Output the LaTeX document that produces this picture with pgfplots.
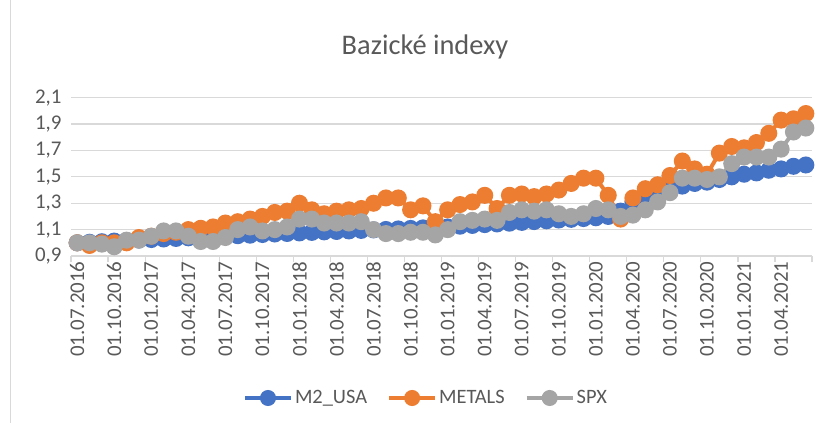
\documentclass[border=0pt]{standalone}
\usepackage{fontspec}
\setmainfont{Carlito}
\usepackage{pgfplots}
\usepackage{pgfplotstable}
\pgfplotsset{compat=1.18}
\definecolor{cblue}{HTML}{4472C4}
\definecolor{corange}{HTML}{ED7D31}
\definecolor{cgray}{HTML}{A5A5A5}
\definecolor{gridgray}{HTML}{D9D9D9}
\definecolor{txtgray}{HTML}{595959}

% monthly, 07.2016 - 06.2021, x = month index + 0.5
\pgfplotstableread{
x m2 metals spx
0.5 1.000 1.00 1.00
1.5 1.004 0.98 1.00
2.5 1.008 1.00 0.99
3.5 1.013 1.00 0.97
4.5 1.017 1.00 1.02
5.5 1.021 1.04 1.02
6.5 1.025 1.05 1.05
7.5 1.029 1.07 1.09
8.5 1.033 1.08 1.09
9.5 1.038 1.10 1.05
10.5 1.042 1.11 1.01
11.5 1.046 1.12 1.01
12.5 1.050 1.15 1.04
13.5 1.054 1.16 1.10
14.5 1.058 1.18 1.12
15.5 1.063 1.20 1.09
16.5 1.067 1.23 1.10
17.5 1.071 1.24 1.12
18.5 1.075 1.30 1.18
19.5 1.079 1.25 1.18
20.5 1.083 1.22 1.15
21.5 1.086 1.24 1.15
22.5 1.090 1.25 1.15
23.5 1.094 1.26 1.16
24.5 1.098 1.30 1.10
25.5 1.101 1.34 1.07
26.5 1.105 1.34 1.07
27.5 1.109 1.25 1.08
28.5 1.113 1.28 1.08
29.5 1.116 1.16 1.06
30.5 1.120 1.25 1.10
31.5 1.126 1.29 1.16
32.5 1.132 1.31 1.17
33.5 1.138 1.36 1.18
34.5 1.143 1.26 1.17
35.5 1.149 1.36 1.23
36.5 1.155 1.37 1.25
37.5 1.161 1.35 1.24
38.5 1.167 1.37 1.25
39.5 1.173 1.40 1.22
40.5 1.178 1.45 1.20
41.5 1.184 1.49 1.22
42.5 1.190 1.49 1.26
43.5 1.200 1.36 1.25
44.5 1.240 1.18 1.20
45.5 1.310 1.34 1.21
46.5 1.360 1.41 1.25
47.5 1.390 1.44 1.31
48.5 1.410 1.51 1.38
49.5 1.430 1.62 1.49
50.5 1.450 1.56 1.49
51.5 1.460 1.52 1.48
52.5 1.480 1.68 1.50
53.5 1.500 1.73 1.60
54.5 1.520 1.72 1.65
55.5 1.530 1.76 1.65
56.5 1.550 1.83 1.65
57.5 1.560 1.93 1.71
58.5 1.580 1.94 1.84
59.5 1.590 1.98 1.87
}\data

\begin{document}
\begin{tikzpicture}
\path[use as bounding box] (0,0) rectangle (825bp,423bp);
\draw[gridgray, line width=1bp] (10bp,0) -- (10bp,423bp);
\node[txtgray, font=\fontsize{28.5}{32}\selectfont] at (425bp,376bp) {Bazické indexy};
\begin{axis}[
    at={(71bp,167bp)}, anchor=south west,
    scale only axis, width=741bp, height=158.3bp,
    xmin=0, xmax=60, ymin=0.9, ymax=2.1,
    axis x line*=bottom, axis y line*=left,
    y axis line style={draw=none},
    x axis line style={gridgray, line width=1.2bp},
    ytick={0.9,1.1,1.3,1.5,1.7,1.9,2.1},
    ytick style={draw=none},
    ymajorgrids, grid style={gridgray, line width=1.2bp},
    xtick={0,3,...,60}, xticklabels={},
    tick align=outside, major tick length=6bp,
    xtick style={gridgray, line width=1.2bp},
    extra x ticks={0.5,3.5,...,57.5},
    extra x tick labels={01.07.2016,01.10.2016,01.01.2017,01.04.2017,01.07.2017,01.10.2017,01.01.2018,01.04.2018,01.07.2018,01.10.2018,01.01.2019,01.04.2019,01.07.2019,01.10.2019,01.01.2020,01.04.2020,01.07.2020,01.10.2020,01.01.2021,01.04.2021},
    extra x tick style={major tick length=0pt, xmajorgrids=false,
        tick label style={rotate=90, anchor=east, xshift=-2bp}},
    tick label style={txtgray, font=\fontsize{21}{25}\selectfont},
    /pgf/number format/assume math mode=true,
    yticklabel style={/pgf/number format/.cd, use comma, fixed, fixed zerofill, precision=1},
    every axis plot/.append style={line width=4bp, mark=*, mark size=6.5bp},
    legend columns=3,
    legend style={draw=none, at={(0.479,-0.897)}, anchor=center,
        font=\fontsize{20.5}{24}\selectfont, text=txtgray,
        /tikz/every even column/.append style={column sep=18bp}},
    legend image code/.code={\draw[mark repeat=2,mark phase=2, mark size=6bp] plot coordinates {(0bp,0bp) (23bp,0bp) (46bp,0bp)};},
]
\addplot[cblue, mark options={fill=cblue, draw=cblue}] table[x=x, y=m2] {\data};
\addlegendentry{M2\_USA}
\addplot[corange, mark options={fill=corange, draw=corange}] table[x=x, y=metals] {\data};
\addlegendentry{METALS}
\addplot[cgray, mark options={fill=cgray, draw=cgray}] table[x=x, y=spx] {\data};
\addlegendentry{SPX}
\end{axis}
\end{tikzpicture}
\end{document}
